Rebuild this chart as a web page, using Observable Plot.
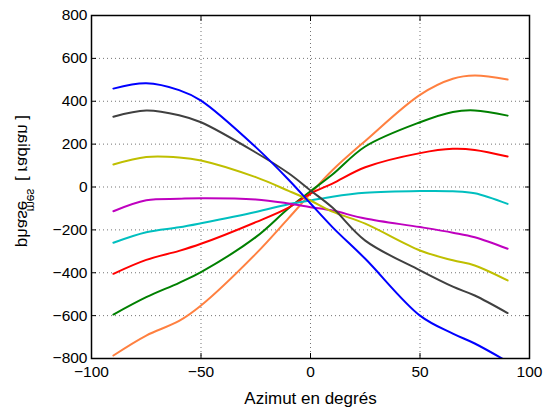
<!DOCTYPE html>
<html><head><meta charset="utf-8">
<script src="https://cdn.jsdelivr.net/npm/d3@7"></script>
<script src="https://cdn.jsdelivr.net/npm/@observablehq/plot@0.6"></script>
<style>body{margin:0;background:#fff}</style>
</head><body><div id="chart"></div>
<script>
const azimuts = [-90,-75,-60,-50,-25,-10,0,10,25,50,65,75,90];
const serieBleu    = [459,484,452,403,186,34,-77,-187,-335,-600,-684,-730,-815];
const serieGris    = [328,357,335,302,161,64,-16,-96,-250,-389,-465,-506,-588];
const serieJaune   = [105,140,138,124,46,-18,-63,-115,-171,-296,-342,-366,-436];
const serieMagenta = [-113,-62,-55,-52,-58,-77,-94,-110,-147,-187,-213,-234,-288];
const serieCyan    = [-260,-211,-188,-169,-117,-80,-63,-45,-27,-19,-20,-29,-79];
const serieRouge   = [-405,-340,-298,-265,-164,-96,-31,16,92,158,178,173,142];
const serieVert    = [-595,-514,-447,-397,-234,-99,-20,58,189,302,350,357,333];
const serieOrange  = [-786,-693,-625,-553,-312,-145,-31,78,215,430,505,520,501];

const seriesNames  = ["s1","s2","s3","s4","s5","s6","s7","s8"];
const seriesValues = [serieOrange,serieVert,serieRouge,serieCyan,serieMagenta,serieJaune,serieGris,serieBleu];
const seriesColors = ["#ff8040","#008000","#ff0000","#00bfbf","#bf00bf","#bfbf00","#404040","#0000ff"];

const xTicks = [-100,-50,0,50,100];
const yTicks = [-800,-600,-400,-200,0,200,400,600,800];
const xLabel = "Azimut en degrés";
const yLabelMain = "phase", yLabelSub = "mes", yLabelUnit = "[ radian ]";

const data = seriesNames.flatMap((s, i) => azimuts.map((x, j) => ({serie: s, x, y: seriesValues[i][j]})));

const grid = {stroke: "#000", strokeOpacity: 0.55, strokeDasharray: "1,3", strokeWidth: 1};
const fmt = d => d3.format("d")(d).replace("-", "−");
const chart = Plot.plot({
  width: 553, height: 410,
  marginLeft: 91, marginRight: 24, marginTop: 15, marginBottom: 52,
  style: {fontFamily: "'Liberation Sans', Arial, Helvetica, sans-serif", fontSize: "15.5px", color: "#000", background: "#fff"},
  x: {domain: [-100, 100]},
  y: {domain: [-800, 800]},
  color: {domain: seriesNames, range: seriesColors},
  marks: [
    Plot.gridX(xTicks, grid),
    Plot.gridY(yTicks, grid),
    ...seriesNames.map(s => Plot.line(data.filter(d => d.serie === s), {x: "x", y: "y", stroke: "serie", curve: "catmull-rom", strokeWidth: 2, clip: true})),
    Plot.axisX(xTicks, {anchor: "bottom", tickSize: -5, tickPadding: 12, label: null, tickFormat: fmt}),
    Plot.axisX(xTicks, {anchor: "top", tickSize: -5, label: null, tickFormat: () => ""}),
    Plot.axisY(yTicks, {anchor: "left", tickSize: -5, tickPadding: 9, label: null, tickFormat: fmt}),
    Plot.axisY(yTicks, {anchor: "right", tickSize: -5, label: null, tickFormat: () => ""}),
    Plot.frame({stroke: "#000", strokeWidth: 1.5}),
    Plot.text([xLabel], {frameAnchor: "bottom", dy: 40, fontSize: 17, lineAnchor: "middle"})
  ]
});
document.getElementById("chart").appendChild(chart);

const svg = d3.select(chart);
const ff = "'Liberation Sans', Arial, Helvetica, sans-serif";
function word(txt, cx, cy, size) {
  svg.append("text")
    .attr("transform", `translate(${cx},${cy}) rotate(-90) scale(1,-1)`)
    .attr("text-anchor", "middle")
    .attr("dominant-baseline", "central")
    .attr("font-family", ff).attr("font-size", size).attr("fill", "#000")
    .text(txt);
}
word(yLabelMain, 23, 224, 17);
word(yLabelSub, 31, 200, 12);
word(yLabelUnit, 23, 148, 17);
</script>
</body></html>
